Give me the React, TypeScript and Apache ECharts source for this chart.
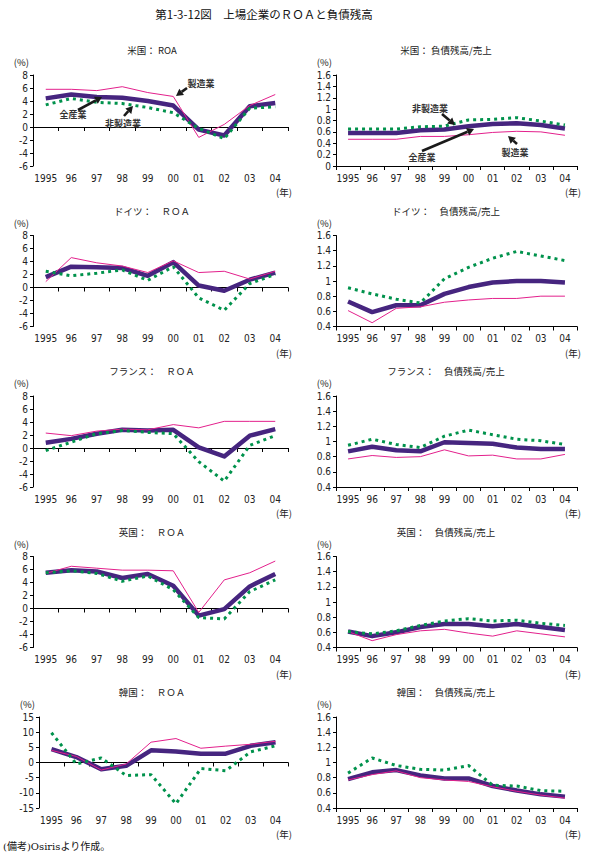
import React, { useEffect, useRef } from "react";
import * as echarts from "echarts";

// Fiscal years on the category axis
const years = ["1995", "96", "97", "98", "99", "00", "01", "02", "03", "04"];

// ROA (%) — 全産業 / 製造業 / 非製造業
const usRoaAll = [4.4, 5.0, 4.6, 4.5, 4.0, 3.3, -0.4, -1.3, 3.2, 3.7];
const usRoaMfg = [5.8, 5.8, 5.6, 6.2, 5.3, 4.7, -1.6, 0.4, 3.3, 5.0];
const usRoaNon = [3.4, 4.4, 3.8, 3.6, 3.0, 2.2, -0.2, -1.8, 2.9, 3.1];

const deRoaAll = [1.6, 3.2, 3.1, 3.0, 1.8, 3.9, 0.3, -0.5, 1.2, 2.3];
const deRoaMfg = [0.9, 4.6, 3.8, 3.3, 2.3, 4.1, 2.3, 2.5, 1.3, 2.5];
const deRoaNon = [2.5, 1.8, 2.2, 2.7, 1.1, 3.2, -1.6, -3.5, 0.6, 2.0];

const frRoaAll = [0.8, 1.4, 2.2, 2.8, 2.7, 2.8, 0.1, -1.3, 1.9, 2.9];
const frRoaMfg = [2.3, 1.9, 2.6, 2.9, 2.8, 3.6, 3.1, 4.1, 4.1, 4.1];
const frRoaNon = [-0.4, 0.9, 2.2, 2.7, 2.4, 2.2, -2.1, -5.1, 0.4, 1.9];

const ukRoaAll = [5.5, 5.9, 5.7, 4.7, 5.3, 3.5, -1.1, -0.1, 3.4, 5.3];
const ukRoaMfg = [5.4, 6.5, 6.2, 5.9, 5.9, 5.8, -0.6, 4.4, 5.5, 7.3];
const ukRoaNon = [5.5, 5.8, 5.4, 4.2, 5.0, 2.9, -1.4, -1.6, 2.6, 4.4];

const krRoaAll = [4.4, 1.8, -2.2, -1.1, 4.0, 3.6, 2.9, 2.9, 5.5, 6.7];
const krRoaMfg = [4.0, 2.0, -2.5, -0.5, 6.7, 7.9, 4.7, 5.4, 6.0, 7.0];
const krRoaNon = [9.8, -0.5, 1.5, -4.3, -4.0, -13.6, -2.0, -2.7, 3.5, 5.5];

// 負債残高/売上 — 全産業 / 製造業 / 非製造業
const usDebtAll = [0.58, 0.58, 0.58, 0.63, 0.64, 0.7, 0.74, 0.75, 0.72, 0.66];
const usDebtMfg = [0.47, 0.47, 0.47, 0.52, 0.52, 0.55, 0.59, 0.61, 0.6, 0.54];
const usDebtNon = [0.65, 0.65, 0.65, 0.69, 0.7, 0.81, 0.82, 0.85, 0.79, 0.72];

const deDebtAll = [0.73, 0.59, 0.68, 0.68, 0.83, 0.92, 0.98, 1.0, 1.0, 0.98];
const deDebtMfg = [0.61, 0.45, 0.64, 0.66, 0.72, 0.75, 0.77, 0.77, 0.8, 0.8];
const deDebtNon = [0.91, 0.83, 0.76, 0.71, 1.03, 1.18, 1.3, 1.39, 1.33, 1.27];

const frDebtAll = [0.87, 0.93, 0.885, 0.87, 0.99, 0.98, 0.97, 0.92, 0.9, 0.9];
const frDebtMfg = [0.77, 0.815, 0.79, 0.8, 0.89, 0.81, 0.82, 0.77, 0.77, 0.83];
const frDebtNon = [0.95, 1.03, 0.96, 0.92, 1.07, 1.15, 1.09, 1.03, 1.01, 0.96];

const ukDebtAll = [0.61, 0.55, 0.6, 0.67, 0.71, 0.71, 0.68, 0.71, 0.67, 0.63];
const ukDebtMfg = [0.61, 0.49, 0.57, 0.62, 0.64, 0.59, 0.55, 0.62, 0.58, 0.54];
const ukDebtNon = [0.61, 0.58, 0.62, 0.69, 0.75, 0.78, 0.75, 0.76, 0.72, 0.69];

const krDebtAll = [0.78, 0.87, 0.9, 0.83, 0.79, 0.79, 0.69, 0.63, 0.58, 0.55];
const krDebtMfg = [0.77, 0.84, 0.89, 0.8, 0.77, 0.75, 0.68, 0.62, 0.57, 0.53];
const krDebtNon = [0.86, 1.06, 0.96, 0.91, 0.9, 0.96, 0.7, 0.69, 0.63, 0.62];

const seriesNames = ["全産業", "製造業", "非製造業"];

type Panel = {
  title: string;
  all: number[];
  mfg: number[];
  non: number[];
  min: number;
  max: number;
  interval: number;
  side: "left" | "right";
  row: number;
};

const panels: Panel[] = [
  { title: "米国： ROA", all: usRoaAll, mfg: usRoaMfg, non: usRoaNon, min: -6, max: 8, interval: 2, side: "left", row: 0 },
  { title: "米国： 負債残高/売上", all: usDebtAll, mfg: usDebtMfg, non: usDebtNon, min: 0, max: 1.6, interval: 0.2, side: "right", row: 0 },
  { title: "ドイツ：　ＲＯＡ", all: deRoaAll, mfg: deRoaMfg, non: deRoaNon, min: -6, max: 8, interval: 2, side: "left", row: 1 },
  { title: "ドイツ：　負債残高/売上", all: deDebtAll, mfg: deDebtMfg, non: deDebtNon, min: 0.4, max: 1.6, interval: 0.2, side: "right", row: 1 },
  { title: "フランス：　ＲＯＡ", all: frRoaAll, mfg: frRoaMfg, non: frRoaNon, min: -6, max: 8, interval: 2, side: "left", row: 2 },
  { title: "フランス：　負債残高/売上", all: frDebtAll, mfg: frDebtMfg, non: frDebtNon, min: 0.4, max: 1.6, interval: 0.2, side: "right", row: 2 },
  { title: "英国：　ＲＯＡ", all: ukRoaAll, mfg: ukRoaMfg, non: ukRoaNon, min: -6, max: 8, interval: 2, side: "left", row: 3 },
  { title: "英国：　負債残高/売上", all: ukDebtAll, mfg: ukDebtMfg, non: ukDebtNon, min: 0.4, max: 1.6, interval: 0.2, side: "right", row: 3 },
  { title: "韓国：　ＲＯＡ", all: krRoaAll, mfg: krRoaMfg, non: krRoaNon, min: -15, max: 15, interval: 5, side: "left", row: 4 },
  { title: "韓国：　負債残高/売上", all: krDebtAll, mfg: krDebtMfg, non: krDebtNon, min: 0.4, max: 1.6, interval: 0.2, side: "right", row: 4 },
];

// Callout labels with arrows on the US panels (canvas pixels)
const callouts = [
  { text: "製造業", lx: 201, ly: 83, x1: 187, y1: 88, x2: 176, y2: 96 },
  { text: "全産業", lx: 73, ly: 114, x1: 78, y1: 110, x2: 102, y2: 97 },
  { text: "非製造業", lx: 123, ly: 123, x1: 124, y1: 116, x2: 133, y2: 106 },
  { text: "非製造業", lx: 430, ly: 108, x1: 442, y1: 114, x2: 455, y2: 125 },
  { text: "全産業", lx: 422, ly: 157, x1: 422, y1: 151, x2: 474, y2: 129 },
  { text: "製造業", lx: 515, ly: 152, x1: 517, y1: 144, x2: 508, y2: 136 },
];

const W = 589;
const H = 857;
const ROW_TOP = [75, 235.5, 396, 556.5, 717];
const GRID_H = 91;
const JP = "'Noto Sans CJK JP', 'Noto Sans', sans-serif";
const NUM = "'Liberation Sans Narrow', 'DejaVu Sans Condensed', 'Noto Sans CJK JP', sans-serif";
const INK = "#222";

const C_ALL = "#46257f";
const C_MFG = "#e3208c";
const C_NON = "#00924c";

function gridBox(p: Panel) {
  if (p.side === "left") {
    const left = p.min === -15 ? 39 : 33;
    return { left, width: 288 - left, top: ROW_TOP[p.row], height: GRID_H };
  }
  return { left: 336, width: 241, top: ROW_TOP[p.row], height: GRID_H };
}

function arrow(x1: number, y1: number, x2: number, y2: number) {
  const a = Math.atan2(y2 - y1, x2 - x1);
  const hl = 7;
  const hw = 4;
  const bx = x2 - hl * Math.cos(a);
  const by = y2 - hl * Math.sin(a);
  const px = -Math.sin(a);
  const py = Math.cos(a);
  return [
    { type: "line", shape: { x1, y1, x2: bx, y2: by }, style: { stroke: "#1a1a1a", lineWidth: 2.6 } },
    {
      type: "polygon",
      shape: { points: [[x2, y2], [bx + px * hw, by + py * hw], [bx - px * hw, by - py * hw]] },
      style: { fill: "#1a1a1a" },
    },
  ];
}

function buildOption() {
  const grid: any[] = [];
  const xAxis: any[] = [];
  const yAxis: any[] = [];
  const series: any[] = [];
  const graphic: any[] = [];

  const axisLineStyle = { color: "#000", width: 1 };
  const labelStyle = { fontFamily: NUM, fontSize: 10, color: INK };

  panels.forEach((p, g) => {
    const box = gridBox(p);
    grid.push({ ...box, containLabel: false });

    let seriesAxis: number;
    if (p.side === "left") {
      // category labels along the bottom
      seriesAxis = xAxis.length;
      xAxis.push({
        type: "category",
        gridIndex: g,
        data: years,
        position: "bottom",
        axisLine: { show: false, onZero: false },
        axisTick: { show: false },
        axisLabel: { ...labelStyle, margin: 7, interval: 0 },
      });
      // zero line with boundary ticks
      xAxis.push({
        type: "category",
        gridIndex: g,
        data: years,
        position: "bottom",
        axisLine: { show: true, onZero: true, lineStyle: axisLineStyle },
        axisTick: { show: true, length: 4, interval: 0, lineStyle: axisLineStyle },
        axisLabel: { show: false },
      });
    } else {
      seriesAxis = xAxis.length;
      xAxis.push({
        type: "category",
        gridIndex: g,
        data: years,
        position: "bottom",
        axisLine: { show: true, onZero: false, lineStyle: axisLineStyle },
        axisTick: { show: true, length: 4, interval: 0, lineStyle: axisLineStyle },
        axisLabel: { ...labelStyle, margin: 7, interval: 0 },
      });
    }

    yAxis.push({
      type: "value",
      gridIndex: g,
      min: p.min,
      max: p.max,
      interval: p.interval,
      splitLine: { show: false },
      axisLine: { show: true, lineStyle: axisLineStyle },
      axisTick: { show: true, length: 3, lineStyle: axisLineStyle },
      axisLabel: { ...labelStyle, margin: 5 },
      name: "(%)",
      nameLocation: "end",
      nameGap: 8,
      nameTextStyle: { fontFamily: JP, fontSize: 9.5, color: INK, align: "right", padding: [0, 4, 0, 0] },
    });

    const common = {
      type: "line",
      xAxisIndex: seriesAxis,
      yAxisIndex: g,
      showSymbol: false,
      symbol: "none",
      smooth: false,
      silent: true,
    };
    series.push({ ...common, name: seriesNames[0], data: p.all, lineStyle: { color: C_ALL, width: 4.5, join: "round" } });
    series.push({ ...common, name: seriesNames[1], data: p.mfg, lineStyle: { color: C_MFG, width: 1 } });
    series.push({
      ...common,
      name: seriesNames[2],
      data: p.non,
      lineStyle: { color: C_NON, width: 3, type: [3, 4], cap: "butt" },
    });

    // panel title and year unit
    graphic.push({
      type: "text",
      x: p.side === "left" ? 152 : 446,
      y: box.top - 25,
      style: { text: p.title, fontFamily: JP, fontSize: 9.5, fill: INK, align: "center", verticalAlign: "middle" },
    });
    graphic.push({
      type: "text",
      x: box.left + box.width + 4,
      y: box.top + box.height + 26,
      style: { text: "(年)", fontFamily: JP, fontSize: 9.5, fill: INK, align: "right", verticalAlign: "middle" },
    });
  });

  graphic.push({
    type: "text",
    x: 264,
    y: 14,
    style: {
      text: "第1-3-12図　上場企業のＲＯＡと負債残高",
      fontFamily: JP,
      fontSize: 11.5,
      fill: "#111",
      align: "center",
      verticalAlign: "middle",
    },
  });
  graphic.push({
    type: "text",
    x: 3,
    y: 846,
    style: {
      text: "(備考)Osirisより作成。",
      fontFamily: "'DejaVu Serif', 'Noto Sans CJK JP', serif",
      fontSize: 10,
      fill: "#111",
      align: "left",
      verticalAlign: "middle",
    },
  });

  callouts.forEach((c) => {
    graphic.push({
      type: "text",
      x: c.lx,
      y: c.ly,
      z: 100,
      style: { text: c.text, fontFamily: JP, fontSize: 9, fontWeight: "bold", fill: "#333", align: "center", verticalAlign: "middle" },
    });
    arrow(c.x1, c.y1, c.x2, c.y2).forEach((el) => graphic.push({ ...el, z: 100 }));
  });

  return {
    animation: false,
    backgroundColor: "#fff",
    grid,
    xAxis,
    yAxis,
    series,
    graphic,
  };
}

export default function App() {
  const ref = useRef<HTMLDivElement>(null);

  useEffect(() => {
    if (!ref.current) return;
    const chart = echarts.init(ref.current, undefined, { renderer: "svg" });
    chart.setOption(buildOption());
    return () => chart.dispose();
  }, []);

  return (
    <div
      ref={ref}
      style={{ position: "absolute", left: 0, top: 0, width: W, height: H, background: "#fff" }}
    />
  );
}
